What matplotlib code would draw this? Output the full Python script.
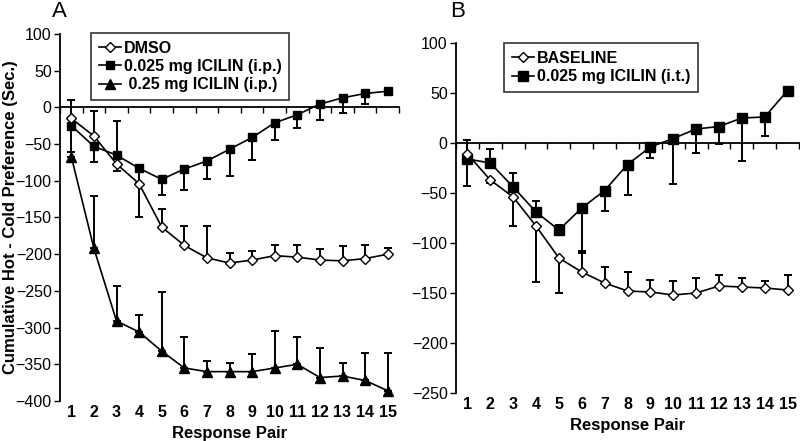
import matplotlib
matplotlib.use("Agg")
import matplotlib.pyplot as plt
import numpy as np

plt.rcParams['font.family'] = ['Liberation Sans', 'DejaVu Sans']

pairs = list(range(1, 16))

# Panel A
dmso = [-15, -39, -77, -104, -163, -188, -205, -212, -208, -202, -204, -208, -209, -206, -200]
dmso_lo = [0, 0, 10, 45, 0, 0, 0, 0, 0, 0, 0, 0, 0, 0, 0]
dmso_hi = [25, 34, 0, 0, 25, 26, 44, 13, 12, 15, 17, 15, 20, 18, 9]

ip025 = [-25, -53, -65, -83, -98, -84, -73, -57, -41, -21, -10, 4.5, 13, 19, 22]
ip025_lo = [36, 22, 0, 20, 21, 29, 25, 37, 30, 24, 18, 22, 20, 14, 0]
ip025_hi = [0, 0, 46, 0, 0, 0, 0, 0, 0, 0, 0, 0, 0, 0, 0]

ip25 = [-67, -192, -291, -306, -332, -355, -360, -360, -360, -355, -350, -368, -366, -372, -386]
ip25_lo = [0] * 15
ip25_hi = [0, 71, 48, 23, 81, 42, 14, 12, 24, 50, 37, 40, 18, 37, 52]

# Panel B
base = [-11, -37, -54, -83, -115, -129, -140, -148, -149, -152, -150, -143, -144, -145, -147]
base_lo = [0, 3, 29, 56, 35, 0, 0, 0, 0, 0, 0, 0, 0, 0, 0]
base_hi = [14, 0, 0, 0, 0, 19, 16, 19, 12, 14, 15, 11, 9, 7, 15]

it025 = [-16, -20, -44, -69, -87, -65, -47.5, -21.5, -4, 4.5, 14, 16.5, 25, 26, 52.5]
it025_lo = [27, 0, 0, 0, 0, 43, 20, 30, 11, 45, 24, 17.5, 43, 19, 0]
it025_hi = [0, 14, 14, 11, 5, 0, 0, 0, 0, 0, 0, 0, 0, 0, 0]

fig = plt.figure(figsize=(8.0, 4.41), dpi=100)
W, H = 800, 441
axA = fig.add_axes([60 / W, 1 - 401 / H, 339 / W, (401 - 34) / H])
axB = fig.add_axes([456 / W, 1 - 393 / H, 343 / W, (393 - 43) / H])

lw = 1.2
ekw = dict(ecolor='black', elinewidth=1.4, capsize=2.8, capthick=1.4)


def series(ax, y, lo, hi, marker, face, ms, label, z):
    ax.errorbar(pairs, y, yerr=[lo, hi], fmt='none', zorder=z, **ekw)
    ax.plot(pairs, y, color='black', lw=lw, marker=marker, mfc=face, mec='black',
            ms=ms, mew=1.0, label=label, zorder=z + 1)


def style(ax, ymin, ymax, step):
    ax.set_xlim(0.5, 15.5)
    ax.set_ylim(ymin, ymax)
    for s in ['top', 'right']:
        ax.spines[s].set_visible(False)
    ax.spines['left'].set_linewidth(1.3)
    ax.spines['bottom'].set_position(('data', 0))
    ax.spines['bottom'].set_linewidth(1.3)
    ax.set_xticks(np.arange(0.5, 16, 1.0))
    ax.tick_params(axis='x', direction='out', length=4, width=1.0, labelbottom=False)
    ax.set_yticks(np.arange(ymin, ymax + 1, step))
    ax.tick_params(axis='y', direction='out', length=4, width=1.0, labelsize=11.5, pad=2)
    sec = ax.secondary_xaxis(0.0)
    sec.set_xticks(pairs)
    sec.set_xticklabels([str(p) for p in pairs], fontweight='bold', fontsize=11.5)
    sec.tick_params(length=0, pad=3)
    sec.spines['bottom'].set_visible(False)
    sec.set_xlabel('Response Pair', fontweight='bold', fontsize=12, labelpad=4)


series(axA, dmso, dmso_lo, dmso_hi, 'D', 'white', 5.5, 'DMSO', 5)
series(axA, ip025, ip025_lo, ip025_hi, 's', 'black', 5.5, '0.025 mg ICILIN (i.p.)', 3)
series(axA, ip25, ip25_lo, ip25_hi, '^', 'black', 6.5, ' 0.25 mg ICILIN (i.p.)', 1)
style(axA, -400, 100, 50)
axA.set_ylabel('Cumulative Hot - Cold Preference (Sec.)', fontweight='bold', fontsize=12)
axA.yaxis.set_label_coords(-0.125, 0.5)

series(axB, base, base_lo, base_hi, 'D', 'white', 5.5, 'BASELINE', 5)
series(axB, it025, it025_lo, it025_hi, 's', 'black', 6.5, '0.025 mg ICILIN (i.t.)', 3)
style(axB, -250, 100, 50)

legkw = dict(frameon=True, fancybox=False, edgecolor='black', handlelength=1.4,
             handletextpad=0.15, borderpad=0.5, labelspacing=0.2,
             prop={'weight': 'bold', 'size': 11.5}, borderaxespad=0)
legA = axA.legend(loc='upper left', bbox_to_anchor=((91 - 60) / 339, 1.003), **legkw)
legA.get_frame().set_linewidth(1.2)
legB = axB.legend(loc='upper left', bbox_to_anchor=((504 - 456) / 343, 1.0), **legkw)
legB.get_frame().set_linewidth(1.2)

fig.text(52 / W, 1 - 17 / H, 'A', fontsize=16)
fig.text(450 / W, 1 - 17 / H, 'B', fontsize=16)

fig.savefig('out.png', dpi=100)
